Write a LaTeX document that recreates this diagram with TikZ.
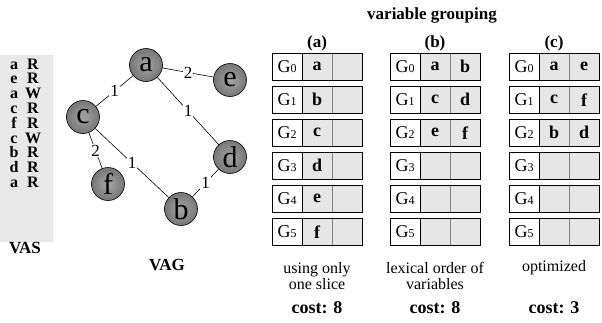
\documentclass[tikz,border=0pt]{standalone}
\usepackage{fontspec}
\setmainfont{Liberation Serif}
\definecolor{cellgray}{RGB}{230,230,230}
\definecolor{panelgray}{RGB}{232,232,232}
\definecolor{nodeinner}{RGB}{165,165,165}
\definecolor{nodeouter}{RGB}{118,118,118}
\newcommand{\fs}[1]{\fontsize{#1}{#1}\selectfont}
% one grouping table: #1 name prefix, #2 left x, #3 rows as index/first/second
\newcommand{\grtable}[3]{%
  \foreach \r/\p/\q in {#3} {
    \pgfmathsetmacro{\ytop}{53+33*\r}
    \node[vcell] (#1-\r-1) at (#2+30,\ytop) {\p};
    \node[vcell] (#1-\r-2) at (#2+60,\ytop) {\q};
    \node[gcell] (#1-\r-g) at (#2,\ytop) {G{\fs{12}\r}};
    \draw[rowframe] (#1-\r-g.north west) rectangle (#1-\r-2.south east);
  }%
}
\begin{document}
\begin{tikzpicture}[x=1pt,y=-1pt,
  gcell/.style={draw=black, fill=white, minimum width=30pt, minimum height=27pt,
    inner sep=0pt, anchor=north west, font=\fs{18}},
  vcell/.style={draw=gray, fill=cellgray, minimum width=30pt, minimum height=27pt,
    inner sep=0pt, anchor=north west, font=\bfseries\fs{18}},
  rowframe/.style={draw=black, line width=0.8pt},
  var/.style={circle, draw=black, line width=0.6pt, minimum size=33pt, inner sep=0pt,
    inner color=nodeinner, outer color=nodeouter, font=\fs{30}},
  link/.style={draw=black, line width=0.6pt},
  wlbl/.style={fill=white, inner sep=1pt, font=\fs{17}},
  vasitem/.style={font=\bfseries\fs{16}, inner sep=0pt, text height=7pt, text depth=3pt},
  heading/.style={font=\bfseries\fs{17}, inner sep=0pt},
  costlbl/.style={font=\bfseries\fs{18}, inner sep=0pt},
  caption/.style={font=\fs{16}, align=center, inner sep=0pt}]
\useasboundingbox (0,0) rectangle (602,322);

% access sequence panel
\fill[panelgray] (0,55) rectangle (53,242);
\foreach \v/\m [count=\i from 0] in {a/R,e/R,a/W,c/R,f/R,c/W,b/R,d/R,a/R} {
  \node[vasitem] (vas-v\i) at (14,67+14.8*\i) {\v};
  \node[vasitem] (vas-m\i) at (33,67+14.8*\i) {\m};
}
\node[heading] (vaslbl) at (25,248) {VAS};

% access graph
\node[var] (a) at (146,65) {a};
\node[var] (e) at (230,80) {e};
\node[var] (c) at (83,117) {c};
\node[var] (d) at (230,157) {d};
\node[var] (f) at (108,184) {f};
\node[var] (b) at (181,209) {b};
\draw[link] (a) -- node[wlbl] {2} (e);
\draw[link] (a) -- node[wlbl] {1} (c);
\draw[link] (a) -- node[wlbl] {1} (d);
\draw[link] (c) -- node[wlbl] {2} (f);
\draw[link] (c) -- node[wlbl] {1} (b);
\draw[link] (d) -- node[wlbl] {1} (b);
\node[heading] (vaglbl) at (167,265) {VAG};

% grouping tables
\node[heading] (title) at (432,15) {variable grouping};
\grtable{ta}{272}{0/a/{},1/b/{},2/c/{},3/d/{},4/e/{},5/f/{}}
\grtable{tb}{390}{0/a/b,1/c/d,2/e/f,3/{}/{},4/{}/{},5/{}/{}}
\grtable{tc}{509}{0/a/e,1/c/f,2/b/d,3/{}/{},4/{}/{},5/{}/{}}
\node[heading] (ha) at (317,43) {(a)};
\node[heading] (hb) at (435,43) {(b)};
\node[heading] (hc) at (554,43) {(c)};
\node[caption] (ca) at (317,276) {using only\\one slice};
\node[caption] (cb) at (435,276) {lexical order of\\variables};
\node[caption] (cc) at (554,268) {optimized};
\node[costlbl] (ka) at (317,308) {cost: 8};
\node[costlbl] (kb) at (435,308) {cost: 8};
\node[costlbl] (kc) at (554,308) {cost: 3};
\end{tikzpicture}
\end{document}
